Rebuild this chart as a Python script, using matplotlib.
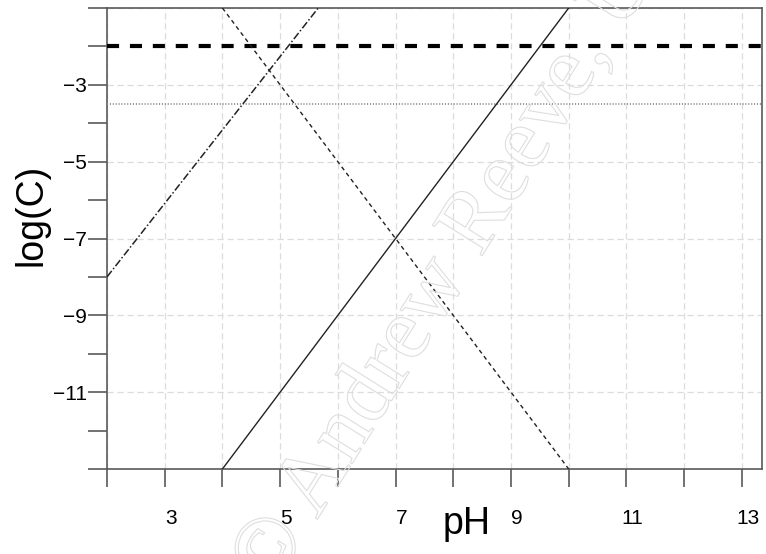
#pH - log(C) diagram, carbonate-style lines

import numpy as np
import matplotlib
matplotlib.use("Agg")
import matplotlib.pyplot as plt
import matplotlib.patheffects as pe
import matplotlib.transforms as mtransforms

plt.rcParams['font.family'] = ['Liberation Sans', 'DejaVu Sans']

# line data (pH, log C)
ph_solid = [4, 10]
logc_solid = [-13, -1]

ph_dot = [4, 10]
logc_dot = [-1, -13]

ph_dashdot = [2, 5.66]
logc_dashdot = [-8, -1]

total_level = -2      # thick dashed
dotted_level = -3.5   # gray dotted

xticks = list(range(2, 14))
xlabels = [str(v) if v % 2 == 1 else "" for v in xticks]
yticks_major = list(range(-13, 0, 2))
ylabels = ["" if v in (-13, -1) else "\u2212" + str(-v) for v in yticks_major]
yticks_minor = list(range(-12, 0, 2))

fig = plt.figure(figsize=(7.66, 5.54), dpi=100)
ax = fig.add_axes([107/766, 1 - 469/554, (762 - 107)/766, (469 - 8)/554])

spine_col = "#5a5a5a"
for s in ax.spines.values():
    s.set_color(spine_col)
    s.set_linewidth(1.2)

ax.set_xlim(2, 13.35)
ax.set_ylim(-13, -1)

ax.set_xticks(xticks)
ax.set_xticklabels(xlabels)
ax.set_yticks(yticks_major)
ax.set_yticklabels(ylabels)
ax.set_yticks(yticks_minor, minor=True)

ax.tick_params(axis='x', direction='out', length=13, width=1.2, color=spine_col,
               pad=16, labelsize=15)
ax.tick_params(axis='y', which='both', direction='out', length=13.5, width=1.2,
               color=spine_col, pad=1, labelsize=15)

# shift x tick labels a little to the right, as in the original
offset = mtransforms.ScaledTranslation(6/100, 0, fig.dpi_scale_trans)
for lab in ax.get_xticklabels():
    lab.set_transform(lab.get_transform() + offset)

ax.grid(True, which='major', color='#dcdcdc', linestyle=(0, (5, 3)), linewidth=0.9)
ax.set_axisbelow(True)

ax.axhline(total_level, color='black', linewidth=3, linestyle=(0, (2.9, 2.6)), zorder=3)
ax.axhline(dotted_level, color='#8a8a8a', linewidth=1.3, linestyle=(0, (0.6, 1.0)), zorder=3)
ax.plot(ph_solid, logc_solid, color='#222222', linewidth=1.0, zorder=3)
ax.plot(ph_dot, logc_dot, color='#222222', linewidth=1.0, linestyle=(0, (3, 2.5)), zorder=3)
ax.plot(ph_dashdot, logc_dashdot, color='#222222', linewidth=1.1,
        linestyle=(0, (5, 1.5, 1, 1.5)), zorder=3)

fig.text(467/766, 1 - 524/554, "pH", fontsize=27, ha='center', va='center')
fig.text(32/766, 1 - 215/554, "log(C)", fontsize=27, ha='center', va='center', rotation=90)

# faint watermark
wm = fig.text(272/766, 1 - 592/554, "\u00a9 Andrew Reeve, University of Maine",
              fontsize=64, family='Liberation Serif', color='none',
              rotation=58, rotation_mode='anchor', ha='left', va='baseline', zorder=10)
wm.set_path_effects([pe.Stroke(linewidth=0.8, foreground='#dedede')])

fig.savefig("out.png", dpi=100)
